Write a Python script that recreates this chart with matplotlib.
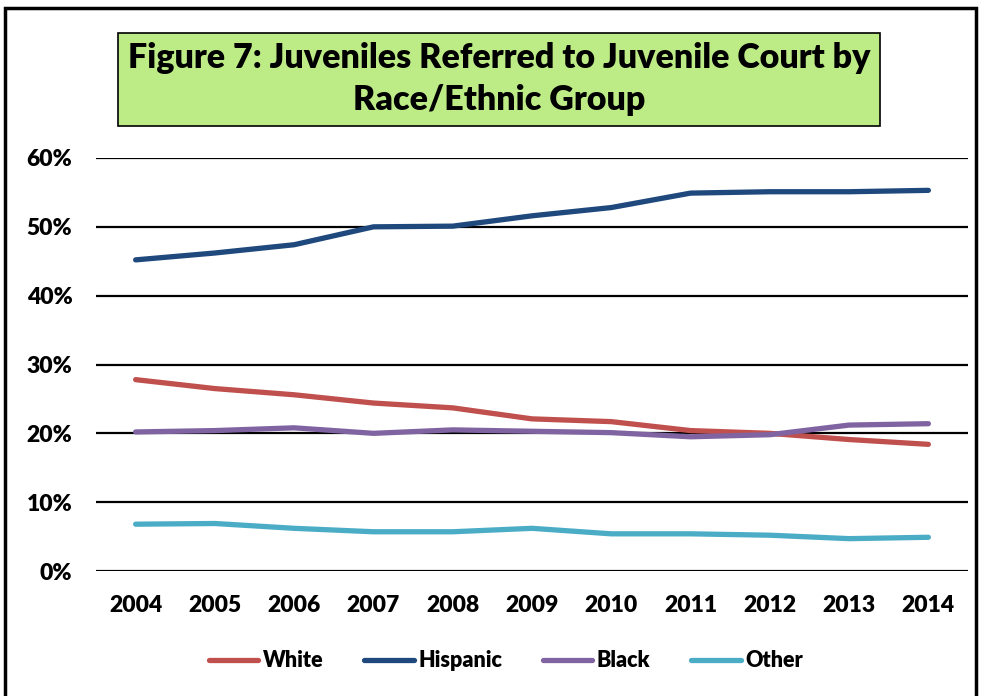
import matplotlib
matplotlib.use("Agg")
import matplotlib.pyplot as plt
from matplotlib.patches import Rectangle
from matplotlib.ticker import FuncFormatter

years = ['2004', '2005', '2006', '2007', '2008', '2009', '2010', '2011', '2012', '2013', '2014']
white = [27.8, 26.5, 25.6, 24.4, 23.7, 22.1, 21.7, 20.4, 20.0, 19.1, 18.4]
hispanic = [45.2, 46.2, 47.4, 50.0, 50.1, 51.6, 52.8, 54.9, 55.1, 55.1, 55.3]
black = [20.2, 20.4, 20.8, 20.0, 20.5, 20.3, 20.1, 19.5, 19.8, 21.2, 21.4]
other = [6.8, 6.9, 6.2, 5.7, 5.7, 6.2, 5.4, 5.4, 5.2, 4.7, 4.9]

series = [('White', white, '#C0504D'),
          ('Hispanic', hispanic, '#1F497D'),
          ('Black', black, '#8064A2'),
          ('Other', other, '#4BACC6')]

plt.rcParams['font.family'] = ['Lato', 'DejaVu Sans']
WEIGHT = 'heavy'

W, H = 990, 696
fig = plt.figure(figsize=(W / 100, H / 100), dpi=100)

# outer frame
fig.patches.append(Rectangle((5 / W, -0.05), 971 / W, 1.05 - 8 / H, transform=fig.transFigure,
                             fill=False, edgecolor='black', linewidth=2.5))

# axes area: 0% line at y=571, 60% line at y=158, x from 96 to 968
ax = fig.add_axes([96 / W, 1 - 571 / H, 872 / W, (571 - 158) / H])
x = list(range(len(years)))
for name, vals, col in series:
    ax.plot(x, vals, color=col, linewidth=3.8, label=name, solid_capstyle='round')

ax.set_xlim(-0.5, len(years) - 0.5)
ax.set_ylim(0, 60)
ax.set_yticks(range(0, 61, 10))
ax.yaxis.set_major_formatter(FuncFormatter(lambda v, p: '%d%%' % v))
ax.set_xticks(x)
ax.set_xticklabels(years)
ax.grid(axis='y', color='black', linewidth=1.6)
ax.set_axisbelow(True)
for s in ax.spines.values():
    s.set_visible(False)
ax.tick_params(length=0, labelsize=16.5, pad=17)
ax.tick_params(axis='y', pad=17)
for lab in ax.get_xticklabels() + ax.get_yticklabels():
    lab.set_fontweight(WEIGHT)

ax.legend(loc='upper center', bbox_to_anchor=(0.47, -0.145), ncol=4, frameon=False,
          handlelength=2.3, handletextpad=0.2, columnspacing=1.9,
          prop={'weight': WEIGHT, 'size': 15.5})

# title box
fig.patches.append(Rectangle((118 / W, 1 - 126 / H), 762 / W, 93 / H, transform=fig.transFigure,
                             facecolor='#BDEB86', edgecolor='black', linewidth=1.2))
fig.text(499 / W, 1 - 79 / H, 'Figure 7: Juveniles Referred to Juvenile Court by\nRace/Ethnic Group',
         ha='center', va='center', fontsize=24.5, fontweight=WEIGHT, linespacing=1.35)

fig.savefig('out.png', dpi=100)
